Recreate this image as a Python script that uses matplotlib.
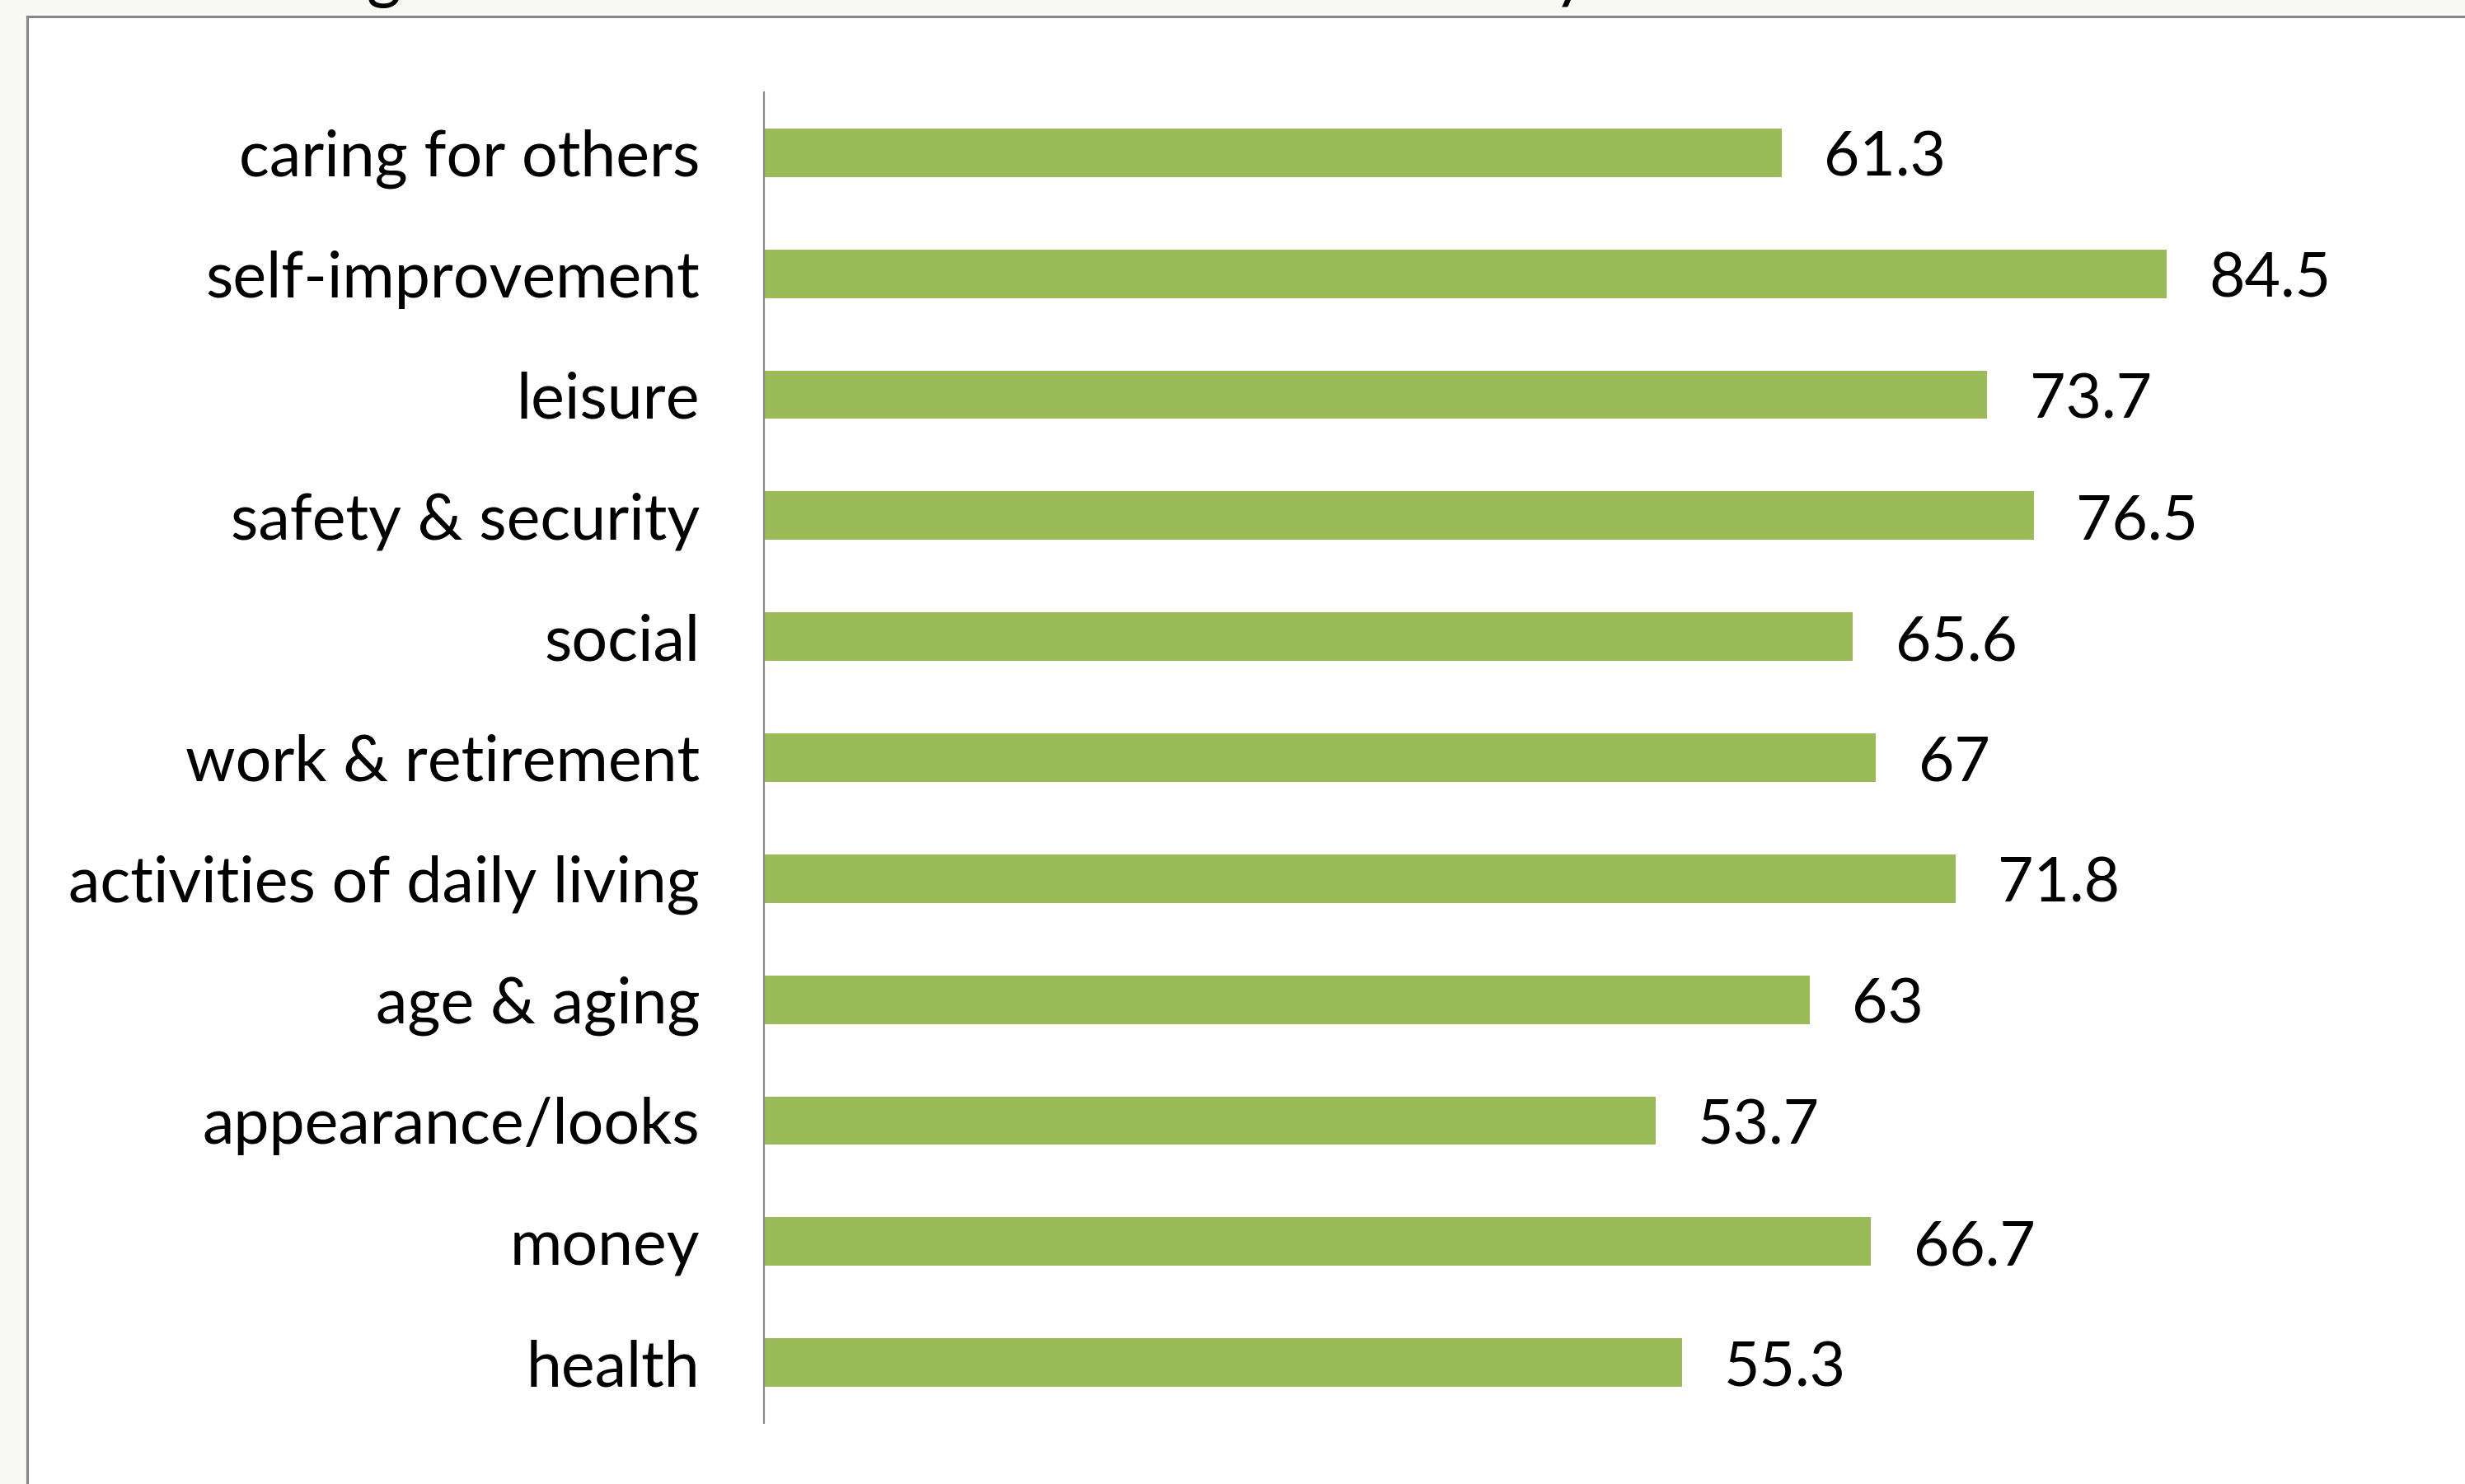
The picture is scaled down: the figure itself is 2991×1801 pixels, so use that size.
import matplotlib
matplotlib.use('Agg')
import matplotlib.pyplot as plt
from matplotlib.lines import Line2D
from matplotlib.patches import Rectangle

categories = ['caring for others', 'self-improvement', 'leisure', 'safety & security',
              'social', 'work & retirement', 'activities of daily living',
              'age & aging', 'appearance/looks', 'money', 'health']
values = [61.3, 84.5, 73.7, 76.5, 65.6, 67, 71.8, 63, 53.7, 66.7, 55.3]
value_labels = ['61.3', '84.5', '73.7', '76.5', '65.6', '67', '71.8', '63', '53.7', '66.7', '55.3']

W, H = 2991, 1801
bar_color = '#9BBB59'
border_color = '#878787'
outer_bg = '#F9F9F4'

plt.rcParams['font.family'] = ['Lato', 'DejaVu Sans']

fig = plt.figure(figsize=(W / 100, H / 100), dpi=100)
fig.patch.set_facecolor('white')

# off-white strips outside the chart frame (top and left), with grey frame line
fig.patches.append(Rectangle((0, 1 - 20 / H), 1, 20 / H, transform=fig.transFigure,
                             facecolor=outer_bg, edgecolor='none', zorder=0))
fig.patches.append(Rectangle((0, 0), 33 / W, 1, transform=fig.transFigure,
                             facecolor=outer_bg, edgecolor='none', zorder=0))
fig.lines.append(Line2D([33 / W, 1], [1 - 20 / H, 1 - 20 / H], transform=fig.transFigure,
                        color=border_color, lw=2.2, zorder=1))
fig.lines.append(Line2D([33 / W, 33 / W], [0, 1 - 20 / H], transform=fig.transFigure,
                        color=border_color, lw=2.2, zorder=1))

# descenders of the cropped title above the frame
fig.text(465 / W, 1 + 6 / H, 'g', ha='center', va='baseline', fontsize=58, color='black')
fig.text(1905 / W, 1 + 6 / H, 'y', ha='center', va='baseline', fontsize=58, color='black')

ax_left, ax_right = 927 / W, 2941 / W
ax_bottom, ax_top = 74 / H, 1689 / H
ax = fig.add_axes([ax_left, ax_bottom, ax_right - ax_left, ax_top - ax_bottom])
ax.set_facecolor('white')

y = list(range(len(categories)))[::-1]
ax.barh(y, values, height=0.4, color=bar_color, zorder=2)

for yi, v, lbl in zip(y, values, value_labels):
    ax.annotate(lbl, (v, yi), xytext=(37, -5), textcoords='offset points',
                ha='left', va='center', fontsize=54, color='black')

ax.set_xlim(0, 100)
ax.set_ylim(-0.5, len(categories) - 0.5)
ax.set_yticks(y)
ax.set_yticklabels(categories, fontsize=55.5)
ax.tick_params(axis='y', length=0, pad=56)
ax.set_xticks([])
for side in ('top', 'right', 'bottom'):
    ax.spines[side].set_visible(False)
ax.spines['left'].set_color(border_color)
ax.spines['left'].set_linewidth(1.5)

fig.savefig('out.png', dpi=100, facecolor='white')
